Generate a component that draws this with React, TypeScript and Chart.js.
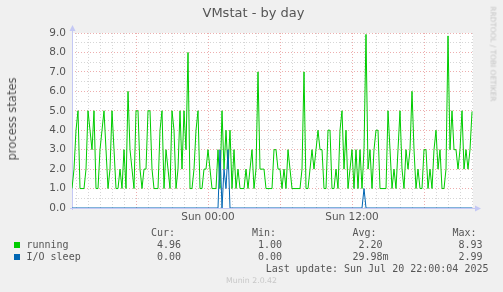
import React, { useEffect, useRef } from 'react';
import { Chart, registerables } from 'chart.js';

Chart.register(...registerables);

// ---- data ----
const TITLE = 'VMstat - by day';
const Y_LABEL = 'process states';
const SIDE_TEXT = 'RRDTOOL / TOBI OETIKER';
const FOOTER = 'Munin 2.0.42';
const LAST_UPDATE = 'Last update: Sun Jul 20 22:00:04 2025';

// minutes relative to Sun 00:00
const START_MIN = -680; // Sat 12:40
const STEP_MIN = 10;
const X_MIN = -680;
const X_MAX = 1325;
const X_TICK_MINUTES = [0, 720];
const X_TICK_LABELS = ['Sun 00:00', 'Sun 12:00'];
const Y_MIN = 0;
const Y_MAX = 9;

const seriesNames = ['running', 'I/O sleep'];
const seriesColors = ['#00cc00', '#0066b3'];

const running = [
  1, 2, 4, 5, 1, 1, 1, 2, 5, 4, 3, 5, 1, 1, 3, 4, 5, 3, 1, 2,
  5, 3, 1, 1, 2, 1, 3, 1, 6, 3, 2, 1, 5, 5, 2, 1, 2, 2, 5, 5,
  2, 1, 1, 1, 4, 5, 1, 3, 2, 1, 5, 4, 1, 2, 5, 2, 5, 3, 8, 1,
  1, 2, 4, 5, 1, 1, 2, 2, 3, 2, 1, 1, 1, 3, 1, 5, 2, 4, 2, 4,
  1, 3, 1, 2, 1, 1, 1, 2, 1, 2, 3, 1, 2, 7, 2, 2, 2, 1, 1, 1,
  1, 3, 3, 2, 2, 1, 2, 1, 3, 2, 1, 1, 1, 1, 1, 2, 7, 1, 1, 2,
  3, 2, 3, 4, 3, 3, 1, 1, 4, 4, 1, 1, 2, 1, 4, 5, 2, 4, 1, 2,
  3, 1, 3, 1, 3, 1, 3, 8.93, 2, 3, 1, 3, 4, 4, 1, 1, 1, 1, 5, 3,
  1, 2, 1, 3, 5, 2, 1, 3, 2, 3, 6, 3, 1, 2, 1, 1, 3, 3, 1, 2,
  1, 3, 4, 2, 3, 1, 1, 2, 8.85, 3, 5, 3, 3, 2, 3, 5, 2, 3, 2, 3,
  4.96,
];

const ioSleep = [
  0, 0, 0, 0, 0, 0, 0, 0, 0, 0, 0, 0, 0, 0, 0, 0, 0, 0, 0, 0,
  0, 0, 0, 0, 0, 0, 0, 0, 0, 0, 0, 0, 0, 0, 0, 0, 0, 0, 0, 0,
  0, 0, 0, 0, 0, 0, 0, 0, 0, 0, 0, 0, 0, 0, 0, 0, 0, 0, 0, 0,
  0, 0, 0, 0, 0, 0, 0, 0, 0, 0, 0, 0, 0, 0, 2.99, 0, 2, 1, 3, 0,
  0, 0, 0, 0, 0, 0, 0, 0, 0, 0, 0, 0, 0, 0, 0, 0, 0, 0, 0, 0,
  0, 0, 0, 0, 0, 0, 0, 0, 0, 0, 0, 0, 0, 0, 0, 0, 0, 0, 0, 0,
  0, 0, 0, 0, 0, 0, 0, 0, 0, 0, 0, 0, 0, 0, 0, 0, 0, 0, 0, 0,
  0, 0, 0, 0, 0, 0, 1, 0, 0, 0, 0, 0, 0, 0, 0, 0, 0, 0, 0, 0,
  0, 0, 0, 0, 0, 0, 0, 0, 0, 0, 0, 0, 0, 0, 0, 0, 0, 0, 0, 0,
  0, 0, 0, 0, 0, 0, 0, 0, 0, 0, 0, 0, 0, 0, 0, 0, 0, 0, 0, 0,
  0,
];

const statHeaders = ['Cur:', 'Min:', 'Avg:', 'Max:'];
const runningStats = ['4.96 ', '1.00 ', '2.20 ', '8.93 '];
const ioSleepStats = ['0.00 ', '0.00 ', '29.98m', '2.99 '];

// ---- styles ----
const W = 503;
const H = 292;
const CHART_LEFT = 72;
const CHART_TOP = 33;
const CHART_RIGHT = 473;
const CHART_BOTTOM = 208;
const COL_END = [187, 288, 388.5, 488.5];
const TEXT = '#555555';
const MONO = '"DejaVu Sans Mono", monospace';
const SANS = '"DejaVu Sans", sans-serif';
const MAJOR_GRID = 'rgba(230, 140, 140, 0.7)';
const MINOR_GRID = 'rgba(200, 200, 200, 0.75)';
const AXIS = '#c4c8f4';

const frame = {
  id: 'muninFrame',
  beforeDraw(chart: any) {
    const { ctx, chartArea: a } = chart;
    ctx.save();
    ctx.fillStyle = '#f0f0f0';
    ctx.fillRect(0, 0, chart.width, chart.height);
    ctx.fillStyle = '#ffffff';
    ctx.fillRect(a.left, a.top, a.right - a.left, a.bottom - a.top);
    ctx.restore();
  },
  beforeDatasetsDraw(chart: any) {
    const { ctx, chartArea: a } = chart;
    ctx.save();
    ctx.strokeStyle = AXIS;
    ctx.fillStyle = AXIS;
    ctx.lineWidth = 1;
    ctx.beginPath();
    ctx.moveTo(a.left + 0.5, a.bottom + 2);
    ctx.lineTo(a.left + 0.5, a.top - 4);
    ctx.moveTo(a.left - 2, a.bottom + 0.5);
    ctx.lineTo(a.right + 3, a.bottom + 0.5);
    ctx.stroke();
    ctx.beginPath();
    ctx.moveTo(a.left + 0.5, a.top - 8);
    ctx.lineTo(a.left - 2.5, a.top - 2);
    ctx.lineTo(a.left + 3.5, a.top - 2);
    ctx.closePath();
    ctx.fill();
    ctx.beginPath();
    ctx.moveTo(a.right + 8, a.bottom + 0.5);
    ctx.lineTo(a.right + 2, a.bottom - 2.5);
    ctx.lineTo(a.right + 2, a.bottom + 3.5);
    ctx.closePath();
    ctx.fill();
    ctx.restore();
  },
};

export default function App() {
  const ref = useRef<HTMLCanvasElement>(null);

  useEffect(() => {
    const canvas = ref.current;
    if (!canvas) return;
    const toPoints = (arr: number[]) => arr.map((y, i) => ({ x: START_MIN + i * STEP_MIN, y }));
    const chart = new Chart(canvas, {
      type: 'line',
      data: {
        datasets: [
          {
            label: seriesNames[1],
            data: toPoints(ioSleep),
            borderColor: seriesColors[1],
            borderWidth: 1,
            pointRadius: 0,
            tension: 0,
            fill: false,
            order: 0,
          },
          {
            label: seriesNames[0],
            data: toPoints(running),
            borderColor: seriesColors[0],
            borderWidth: 1,
            pointRadius: 0,
            tension: 0,
            fill: false,
            order: 1,
          },
        ],
      },
      options: {
        animation: false,
        responsive: false,
        devicePixelRatio: 1,
        events: [],
        layout: {
          padding: { left: 0, top: CHART_TOP, right: W - CHART_RIGHT, bottom: 0 },
        },
        plugins: {
          legend: { display: false },
          tooltip: { enabled: false },
          title: { display: false },
        },
        scales: {
          x: {
            type: 'linear',
            min: X_MIN,
            max: X_MAX,
            afterFit: (s: any) => {
              s.height = H - CHART_BOTTOM;
            },
            afterBuildTicks: (s: any) => {
              const t: { value: number }[] = [];
              for (let v = Math.ceil(X_MIN / 60) * 60; v <= X_MAX; v += 60) {
                if (v > X_MIN && v < X_MAX) t.push({ value: v });
              }
              s.ticks = t;
            },
            ticks: {
              autoSkip: false,
              maxRotation: 0,
              minRotation: 0,
              padding: 3,
              color: TEXT,
              font: { family: SANS, size: 10.5 },
              callback: (v: any) => {
                const k = X_TICK_MINUTES.indexOf(Number(v));
                return k >= 0 ? X_TICK_LABELS[k] : '';
              },
            },
            grid: {
              drawTicks: false,
              lineWidth: 1,
              color: (c: any) =>
                c.tick && c.tick.value % 360 === 0 ? MAJOR_GRID : MINOR_GRID,
            },
            border: { display: false, dash: [1, 2] },
          },
          y: {
            min: Y_MIN,
            max: Y_MAX,
            afterFit: (s: any) => {
              s.width = CHART_LEFT;
            },
            afterBuildTicks: (s: any) => {
              const t: { value: number }[] = [];
              for (let v = Y_MIN; v <= Y_MAX; v += 0.5) t.push({ value: v });
              s.ticks = t;
            },
            ticks: {
              autoSkip: false,
              padding: 6,
              color: TEXT,
              font: { family: SANS, size: 10.5 },
              callback: (v: any) => (Number.isInteger(Number(v)) ? Number(v).toFixed(1) : ''),
            },
            grid: {
              drawTicks: false,
              lineWidth: 1,
              color: (c: any) =>
                c.tick && Number.isInteger(c.tick.value) && c.tick.value > 0 ? MAJOR_GRID : MINOR_GRID,
            },
            border: { display: false, dash: [1, 2] },
          },
        },
      },
      plugins: [frame],
    } as any);
    return () => chart.destroy();
  }, []);

  const abs = (extra: React.CSSProperties): React.CSSProperties => ({
    position: 'absolute',
    whiteSpace: 'pre',
    lineHeight: '12px',
    ...extra,
  });

  const rows = [
    { name: seriesNames[0], color: seriesColors[0], stats: runningStats, y: 244.5 },
    { name: seriesNames[1], color: seriesColors[1], stats: ioSleepStats, y: 256.5 },
  ];

  return (
    <div
      style={{
        position: 'fixed',
        left: 0,
        top: 0,
        width: W,
        height: H,
        background: '#f0f0f0',
        overflow: 'hidden',
      }}
    >
      <canvas ref={ref} width={W} height={H} style={{ position: 'absolute', left: 0, top: 0 }} />
      <div
        style={abs({
          left: 0,
          width: W,
          top: 5,
          textAlign: 'center',
          font: `13px ${SANS}`,
          lineHeight: '16px',
          color: TEXT,
          paddingLeft: 2,
        })}
      >
        {TITLE}
      </div>
      <div
        style={abs({
          left: 12,
          top: 119,
          transform: 'translate(-50%, -50%) rotate(-90deg)',
          font: `11.5px ${SANS}`,
          lineHeight: '14px',
          color: TEXT,
        })}
      >
        {Y_LABEL}
      </div>
      <div
        style={abs({
          left: 493,
          top: 54,
          transform: 'translate(-50%, -50%) rotate(90deg)',
          font: `7.4px ${SANS}`,
          lineHeight: '9px',
          color: '#c4c4c4',
        })}
      >
        {SIDE_TEXT}
      </div>
      {statHeaders.map((h, i) => (
        <div key={h} style={abs({ right: W - COL_END[i], top: 232.5 - 6, font: `10px ${MONO}`, color: TEXT })}>
          {h + '  '}
        </div>
      ))}
      {rows.map((r) => (
        <React.Fragment key={r.name}>
          <div
            style={{
              position: 'absolute',
              left: 14,
              top: r.y - 3,
              width: 6,
              height: 6,
              background: r.color,
            }}
          />
          <div style={abs({ left: 26.5, top: r.y - 6, font: `10px ${MONO}`, color: TEXT })}>{r.name}</div>
          {r.stats.map((s, i) => (
            <div key={i} style={abs({ right: W - COL_END[i], top: r.y - 6, font: `10px ${MONO}`, color: TEXT })}>
              {s}
            </div>
          ))}
        </React.Fragment>
      ))}
      <div style={abs({ right: W - 488.5, top: 268.5 - 6, font: `10px ${MONO}`, color: TEXT })}>{LAST_UPDATE}</div>
      <div
        style={abs({
          left: 0,
          width: W,
          top: 281 - 5,
          textAlign: 'center',
          font: `7.8px ${SANS}`,
          lineHeight: '10px',
          color: '#c8c8c8',
        })}
      >
        {FOOTER}
      </div>
    </div>
  );
}
